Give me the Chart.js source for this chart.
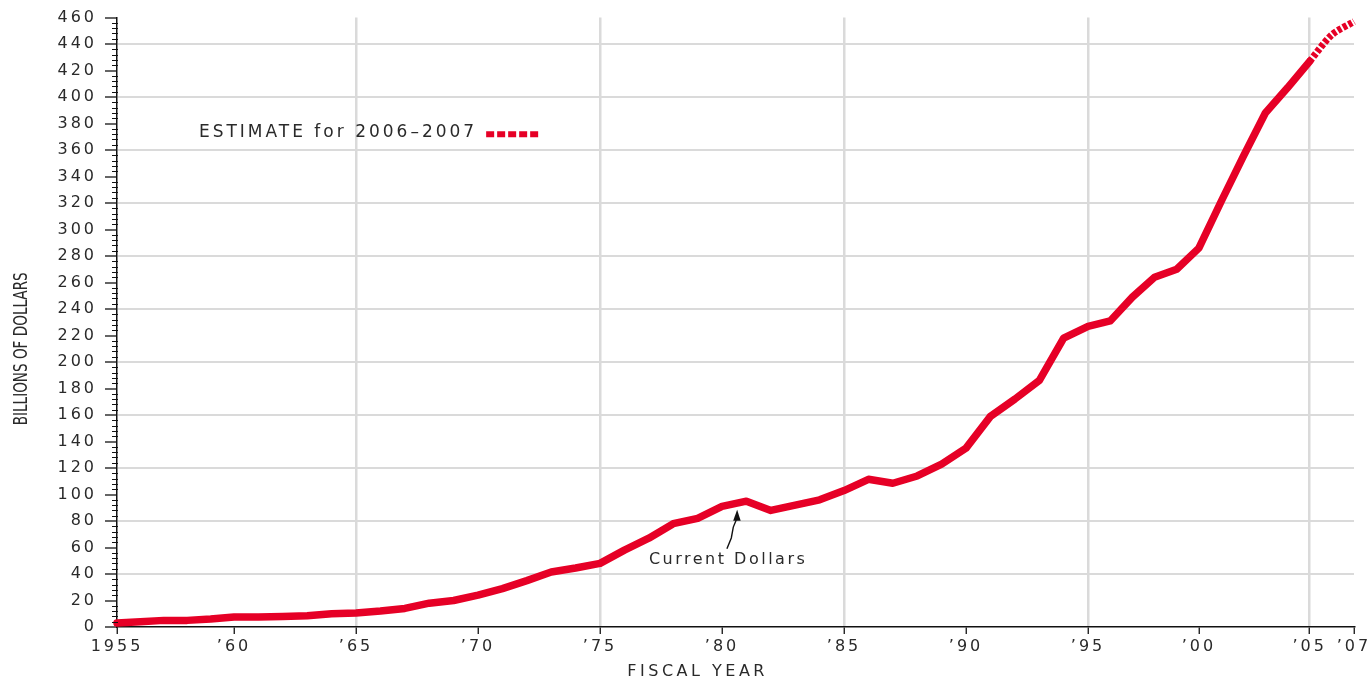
<!DOCTYPE html>
<html>
<head>
<meta charset="utf-8">
<title>Outlays, Fiscal Years 1955–2007</title>
<script src="https://cdn.jsdelivr.net/npm/chart.js@4/dist/chart.umd.min.js"></script>
<style>
  html, body { margin: 0; padding: 0; background: #ffffff; }
  #wrap { width: 1369px; height: 681px; position: relative; }
</style>
</head>
<body>
<div id="wrap"><canvas id="chart"></canvas></div>
<script>
// Outlays in current dollars, billions, by fiscal year
const actualYears = [
  1955, 1956, 1957, 1958, 1959, 1960, 1961, 1962, 1963, 1964,
  1965, 1966, 1967, 1968, 1969, 1970, 1971, 1972, 1973, 1974,
  1975, 1976, 1977, 1978, 1979, 1980, 1981, 1982, 1983, 1984,
  1985, 1986, 1987, 1988, 1989, 1990, 1991, 1992, 1993, 1994,
  1995, 1996, 1997, 1998, 1999, 2000, 2001, 2002, 2003, 2004,
  2005
];
const actualValues = [
  3, 4, 5, 5, 6, 7.5, 7.5, 8, 8.5, 10,
  10.5, 12, 14, 18, 20, 24, 29, 35, 41.5, 44.5,
  48, 58, 67, 78, 82, 91, 95, 88, 92, 96,
  103, 111.5, 108.5, 114, 123, 135, 159, 172, 186, 218,
  227, 231, 249, 264, 270, 286, 321, 355, 388, 407,
  427
];

// Estimated outlays (joined to the last actual year)
const estimateYears = [2005, 2006, 2007];
const estimateValues = [427, 447, 457];

// Axis ticks
const tickYears = [1955, 1960, 1965, 1970, 1975, 1980, 1985, 1990, 1995, 2000, 2005, 2007];
const tickLabels = ['1955', '\u201960', '\u201965', '\u201970', '\u201975', '\u201980',
                    '\u201985', '\u201990', '\u201995', '\u201900', '\u201905', '\u201907'];
const gridYears = [1965, 1975, 1985, 1995, 2005];
const yMax = 460;
const yLabelStep = 20;
const yGridStep = 40;
const yMinorStep = 4;

const RED = '#e60026';
const GRID = '#dadada';
const INK = '#2a2a2a';
const LABEL_FONT = '"DejaVu Sans", Lato, sans-serif';
const TICK_TRACKING = '3px';

// Linear scale whose year spacing is set piecewise by knot fractions
class PiecewiseScale extends Chart.LinearScale {
  static id = 'piecewise';
  _frac(v) {
    const k = this.options.knots;
    if (v <= k[0][0]) return k[0][1];
    for (let i = 1; i < k.length; i++) {
      if (v <= k[i][0]) {
        const t = (v - k[i - 1][0]) / (k[i][0] - k[i - 1][0]);
        return k[i - 1][1] + t * (k[i][1] - k[i - 1][1]);
      }
    }
    return k[k.length - 1][1];
  }
  getPixelForValue(value) {
    return this.getPixelForDecimal(this._frac(value));
  }
  getValueForPixel(pixel) {
    const d = this.getDecimalForPixel(pixel);
    const k = this.options.knots;
    for (let i = 1; i < k.length; i++) {
      if (d <= k[i][1]) {
        const t = (d - k[i - 1][1]) / (k[i][1] - k[i - 1][1]);
        return k[i - 1][0] + t * (k[i][0] - k[i - 1][0]);
      }
    }
    return k[k.length - 1][0];
  }
}
Chart.register(PiecewiseScale);

function toPoints(xs, ys) {
  return xs.map((x, i) => ({ x: x, y: ys[i] }));
}

// Wide tracking for the tick lettering
const trackingPlugin = {
  id: 'tracking',
  beforeLayout(chart) { chart.ctx.letterSpacing = TICK_TRACKING; },
  beforeDraw(chart) { chart.ctx.letterSpacing = TICK_TRACKING; }
};

// Draw text stretched or squeezed to a given width
function fitText(ctx, text, x, y, width) {
  const w = ctx.measureText(text).width;
  ctx.save();
  ctx.translate(x, y);
  ctx.scale(width / w, 1);
  ctx.fillText(text, 0, 0);
  ctx.restore();
}

// Key, callout, axis titles and minor ticks
const overlayPlugin = {
  id: 'overlay',
  afterDraw(chart) {
    const ctx = chart.ctx;
    const xs = chart.scales.x;
    const ys = chart.scales.y;
    const area = chart.chartArea;

    ctx.save();

    // minor ticks on the value axis
    ctx.strokeStyle = '#111';
    ctx.lineWidth = 1.2;
    ctx.beginPath();
    for (let v = 0; v <= yMax; v += yMinorStep) {
      if (v % yLabelStep === 0) continue;
      const y = Math.round(ys.getPixelForValue(v)) + 0.5;
      ctx.moveTo(area.left - 5, y);
      ctx.lineTo(area.left + 1, y);
    }
    ctx.stroke();

    ctx.fillStyle = INK;
    ctx.textBaseline = 'middle';

    // estimate key
    ctx.letterSpacing = '3px';
    ctx.font = '17px ' + LABEL_FONT;
    const kx = xs.getPixelForValue(1958.5);
    const ky = ys.getPixelForValue(373.5);
    const keyText = 'ESTIMATE for 2006\u20132007';
    ctx.textAlign = 'left';
    ctx.fillText(keyText, kx, ky);
    const kw = ctx.measureText(keyText).width;
    ctx.strokeStyle = RED;
    ctx.lineWidth = 6;
    ctx.setLineDash([8, 3]);
    ctx.beginPath();
    ctx.moveTo(kx + kw + 9, ky + 2);
    ctx.lineTo(kx + kw + 64, ky + 2);
    ctx.stroke();
    ctx.setLineDash([]);

    // series callout
    ctx.letterSpacing = '2.5px';
    ctx.font = '16px ' + LABEL_FONT;
    const cx = xs.getPixelForValue(1980.25);
    const cy = ys.getPixelForValue(51);
    ctx.textAlign = 'center';
    ctx.fillText('Current Dollars', cx, cy);
    const bx = xs.getPixelForValue(1980.2);
    const by = ys.getPixelForValue(59);
    const tx = xs.getPixelForValue(1980.62);
    const ty = ys.getPixelForValue(88.5);
    ctx.strokeStyle = '#111';
    ctx.lineWidth = 1.4;
    ctx.beginPath();
    ctx.moveTo(bx, by);
    ctx.lineTo(bx + (tx - bx) * 0.35 + 0.8, by + (ty + 8 - by) * 0.35);
    ctx.lineTo(bx + (tx - bx) * 0.7 - 0.8, by + (ty + 8 - by) * 0.7);
    ctx.lineTo(tx, ty + 8);
    ctx.stroke();
    ctx.fillStyle = '#111';
    ctx.beginPath();
    ctx.moveTo(tx, ty);
    ctx.lineTo(tx - 4, ty + 11);
    ctx.lineTo(tx + 3.5, ty + 11);
    ctx.closePath();
    ctx.fill();

    // axis titles
    ctx.fillStyle = INK;
    ctx.letterSpacing = '3.5px';
    ctx.font = '16px ' + LABEL_FONT;
    ctx.textAlign = 'center';
    ctx.fillText('FISCAL YEAR', xs.getPixelForValue(1979), area.bottom + 45);

    ctx.letterSpacing = '0px';
    ctx.font = '19px "Liberation Sans Narrow", "DejaVu Sans Condensed", sans-serif';
    ctx.translate(22, ys.getPixelForValue(210));
    ctx.rotate(-Math.PI / 2);
    fitText(ctx, 'BILLIONS OF DOLLARS', 0, 0, 153);

    ctx.restore();
  }
};

new Chart(document.getElementById('chart'), {
  type: 'line',
  data: {
    datasets: [
      {
        label: 'Current Dollars',
        data: toPoints(actualYears, actualValues),
        borderColor: RED,
        borderWidth: 7.5,
        borderCapStyle: 'round',
        borderJoinStyle: 'round',
        pointRadius: 0,
        tension: 0,
        clip: false
      },
      {
        label: 'Estimate for 2006\u20132007',
        data: toPoints(estimateYears, estimateValues),
        borderColor: RED,
        borderWidth: 7,
        borderDash: [4, 2],
        borderCapStyle: 'butt',
        borderJoinStyle: 'round',
        pointRadius: 0,
        tension: 0.3,
        clip: false
      }
    ]
  },
  options: {
    responsive: true,
    maintainAspectRatio: false,
    animation: false,
    layout: { padding: { left: 0, right: 15, top: 13, bottom: 0 } },
    plugins: {
      legend: { display: false },
      title: { display: false },
      tooltip: { enabled: false }
    },
    scales: {
      x: {
        type: 'piecewise',
        knots: [[1955, 0], [1960, 0.0946], [1995, 0.785], [2007, 1]],
        min: 1955,
        max: 2007,
        afterBuildTicks(scale) {
          scale.ticks = tickYears.map(v => ({ value: v }));
        },
        afterFit(scale) {
          scale.height = 54;
          scale.paddingLeft = 0;
          scale.paddingRight = 0;
        },
        ticks: {
          autoSkip: false,
          maxRotation: 0,
          padding: 3,
          color: INK,
          font: { family: LABEL_FONT, size: 16 },
          callback(value) {
            const i = tickYears.indexOf(value);
            return i >= 0 ? tickLabels[i] : '';
          }
        },
        grid: {
          color(c) {
            return c.tick && gridYears.includes(c.tick.value) ? GRID : 'rgba(0,0,0,0)';
          },
          lineWidth: 2.5,
          drawTicks: true,
          tickLength: 7,
          tickColor: '#111',
          tickWidth: 1.3
        },
        border: { display: true, color: '#111', width: 1.5 }
      },
      y: {
        type: 'linear',
        min: 0,
        max: yMax,
        afterFit(scale) { scale.width = 117; },
        ticks: {
          stepSize: yLabelStep,
          padding: 8,
          color: INK,
          font: { family: LABEL_FONT, size: 16 }
        },
        grid: {
          color(c) {
            const v = c.tick ? c.tick.value : -1;
            return v > 0 && v < yMax && v % yGridStep === 0 ? GRID : 'rgba(0,0,0,0)';
          },
          lineWidth: 2,
          drawTicks: true,
          tickLength: 12,
          tickColor: '#111',
          tickWidth: 1.3
        },
        border: { display: true, color: '#111', width: 1.5 }
      }
    }
  },
  plugins: [trackingPlugin, overlayPlugin]
});
</script>
</body>
</html>
